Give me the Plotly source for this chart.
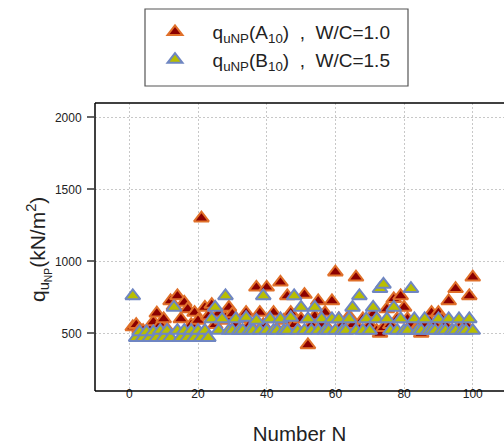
import plotly.graph_objects as go

N = list(range(1, 101))

q_A10 = [545, 560, 530, 520, 510, 525, 580, 640, 560, 600,
         530, 725, 690, 760, 600, 715, 670, 560, 645, 590,
         1300, 680, 620, 700, 560, 640, 590, 610, 680, 635,
         560, 520, 600, 645, 560, 530, 820, 645, 560, 820,
         600, 645, 530, 855, 590, 760, 645, 560, 520, 600,
         770, 420, 560, 620, 725, 560, 645, 530, 725, 925,
         600, 560, 520, 620, 560, 890, 530, 600, 520, 560,
         635, 520, 500, 540, 670, 560, 740, 600, 760, 680,
         600, 560, 520, 540, 500, 560, 600, 645, 560, 645,
         600, 560, 725, 520, 810, 540, 520, 560, 760, 890]

q_B10 = [760, 470, 510, 470, 510, 470, 510, 470, 520, 470,
         520, 470, 680, 520, 470, 520, 470, 520, 470, 520,
         470, 520, 470, 600, 680, 520, 600, 760, 520, 520,
         600, 520, 520, 610, 520, 520, 590, 520, 760, 520,
         600, 520, 520, 600, 520, 520, 610, 760, 520, 680,
         520, 600, 520, 680, 520, 600, 520, 520, 600, 520,
         600, 520, 520, 600, 680, 520, 760, 520, 600, 520,
         680, 600, 810, 840, 600, 520, 680, 520, 600, 520,
         520, 810, 600, 520, 520, 600, 520, 520, 520, 600,
         520, 520, 600, 520, 520, 600, 520, 520, 600, 520]

x_ticks = [0, 20, 40, 60, 80, 100]
y_ticks = [500, 1000, 1500, 2000]

FONT = "Liberation Sans, Arial, sans-serif"
NB = "\u00a0"

W, H = 504, 445
L, T, B, R = 95, 103, 445 - 391, 0
PW, PH = W - L - R, H - T - B
XMIN = -10
XMAX = XMIN + PW / 3.434


def px(sx):
    return (sx - L) / PW


def py(sy):
    return 1 - (sy - T) / PH


fig = go.Figure()
fig.add_trace(go.Scatter(
    x=N, y=q_A10, mode="markers",
    name=NB + NB + "q<sub>uNP</sub>(A<sub>10</sub>)" + NB + " ," + NB + " W/C=1.0",
    marker=dict(symbol="triangle-up", size=13, color="#8b0000",
                line=dict(color="#e0702a", width=2)),
))
fig.add_trace(go.Scatter(
    x=N, y=q_B10, mode="markers",
    name=NB + NB + "q<sub>uNP</sub>(B<sub>10</sub>)" + NB + " ," + NB + " W/C=1.5",
    marker=dict(symbol="triangle-up", size=13, color="#b8be00",
                line=dict(color="#6f86c2", width=2)),
))

# legend frame
fig.add_shape(type="rect", xref="paper", yref="paper",
              x0=px(145), x1=px(408), y0=py(86), y1=py(9),
              line=dict(color="#555", width=1.2), fillcolor="rgba(0,0,0,0)")
# plot frame: left, bottom, top (open on the right, running off the page)
FRAME = dict(color="black", width=1.5)
fig.add_shape(type="line", xref="paper", yref="paper", x0=0, x1=0, y0=0, y1=1, line=FRAME)
fig.add_shape(type="line", xref="paper", yref="paper", x0=0, x1=1.05, y0=0, y1=0, line=FRAME)
fig.add_shape(type="line", xref="paper", yref="paper", x0=0, x1=1.05, y0=1, y1=1, line=FRAME)

fig.add_annotation(
    xref="paper", yref="paper", x=px(38), y=py(250),
    xanchor="center", yanchor="middle", textangle=-90, showarrow=False,
    text="q<sub>u<sub>NP</sub></sub>(kN/m<sup>2</sup>)",
    font=dict(size=21, family=FONT, color="#222"),
)

fig.update_layout(
    width=W, height=H,
    margin=dict(l=L, r=R, t=T, b=B, autoexpand=False),
    paper_bgcolor="white", plot_bgcolor="white",
    font=dict(family=FONT, color="#222"),
    showlegend=True,
    legend=dict(
        x=px(148), y=py(13), xanchor="left", yanchor="top",
        borderwidth=0, bgcolor="rgba(0,0,0,0)",
        font=dict(size=19, family=FONT, color="#222"),
        itemwidth=44,
    ),
    xaxis=dict(
        range=[XMIN, XMAX], tickvals=x_ticks,
        showgrid=True, gridcolor="#c8c8c8", griddash="2px,2px", gridwidth=1,
        showline=False, mirror=False,
        ticks="", ticklen=0, ticklabelstandoff=-6,
        tickfont=dict(size=12, color="#222"),
        zeroline=False, automargin=False,
        title=dict(text="Number N", font=dict(size=20.5, color="#222"), standoff=34),
    ),
    yaxis=dict(
        range=[100, 2100], tickvals=y_ticks,
        showgrid=True, gridcolor="#c8c8c8", griddash="2px,2px", gridwidth=1,
        showline=False, mirror=False,
        ticks="outside", ticklen=7, tickcolor="#666", tickwidth=2,
        ticklabelstandoff=3,
        tickfont=dict(size=12, color="#222"),
        zeroline=False, automargin=False,
    ),
)

fig.write_html(
    "out.html",
    config={"displayModeBar": False},
    post_script="document.body.style.margin='0';document.body.style.overflow='hidden';",
)
